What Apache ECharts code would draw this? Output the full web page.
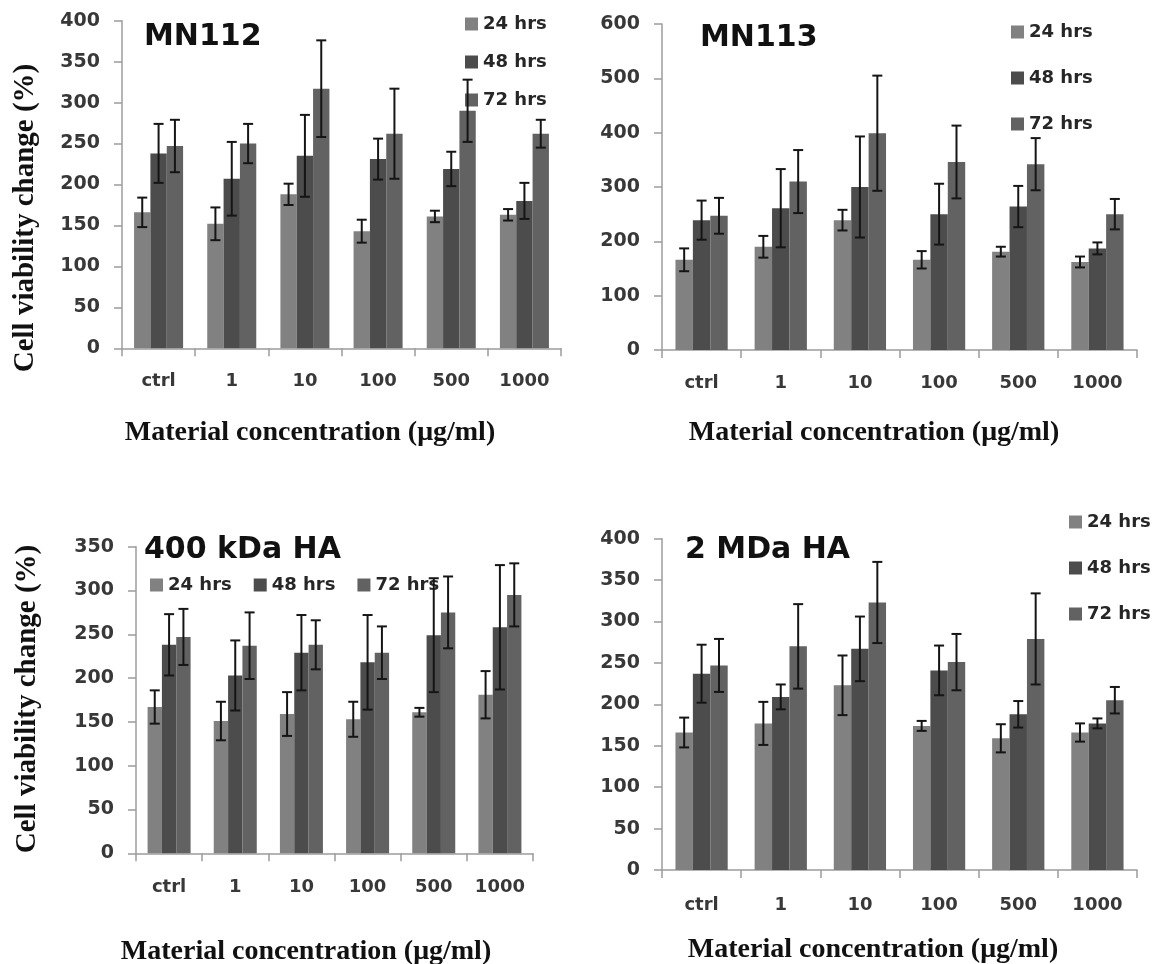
<!DOCTYPE html>
<html>
<head>
<meta charset="utf-8">
<script src="https://cdn.jsdelivr.net/npm/echarts@6/dist/echarts.min.js"></script>
<style>
html,body{margin:0;padding:0;background:#fff;}
#chart{width:1166px;height:964px;}
</style>
</head>
<body>
<div id="chart"></div>
<script>
const categories = ['ctrl', '1', '10', '100', '500', '1000'];
const seriesNames = ['24 hrs', '48 hrs', '72 hrs'];
const panelTitles = ['MN112', 'MN113', '400 kDa HA', '2 MDa HA'];
const yMax = [400, 600, 350, 400];
const yStep = [50, 100, 50, 50];

// MN112
const mn112_24 = [166, 152, 188, 143, 161, 163];
const mn112_24_err = [18, 20, 13, 14, 7, 7];
const mn112_48 = [238, 207, 235, 231, 219, 180];
const mn112_48_err = [36, 45, 50, 25, 21, 22];
const mn112_72 = [247, 250, 317, 262, 290, 262];
const mn112_72_err = [32, 24, 59, 55, 38, 17];

// MN113
const mn113_24 = [166, 190, 239, 166, 181, 162];
const mn113_24_err = [21, 20, 19, 16, 9, 10];
const mn113_48 = [239, 261, 300, 250, 264, 187];
const mn113_48_err = [36, 72, 93, 56, 38, 11];
const mn113_72 = [247, 310, 399, 346, 342, 250];
const mn113_72_err = [33, 58, 106, 67, 48, 28];

// 400 kDa HA
const ha400_24 = [167, 151, 159, 153, 161, 181];
const ha400_24_err = [19, 22, 25, 20, 5, 27];
const ha400_48 = [238, 203, 229, 218, 249, 258];
const ha400_48_err = [35, 40, 43, 54, 65, 71];
const ha400_72 = [247, 237, 238, 229, 275, 295];
const ha400_72_err = [32, 38, 28, 30, 41, 36];

// 2 MDa HA
const ha2m_24 = [166, 177, 223, 174, 159, 166];
const ha2m_24_err = [18, 26, 36, 6, 17, 11];
const ha2m_48 = [237, 209, 267, 241, 188, 177];
const ha2m_48_err = [35, 15, 39, 30, 16, 6];
const ha2m_72 = [247, 270, 323, 251, 279, 205];
const ha2m_72_err = [32, 51, 49, 34, 55, 16];

const panels = [
  { vals: [mn112_24, mn112_48, mn112_72], errs: [mn112_24_err, mn112_48_err, mn112_72_err] },
  { vals: [mn113_24, mn113_48, mn113_72], errs: [mn113_24_err, mn113_48_err, mn113_72_err] },
  { vals: [ha400_24, ha400_48, ha400_72], errs: [ha400_24_err, ha400_48_err, ha400_72_err] },
  { vals: [ha2m_24, ha2m_48, ha2m_72], errs: [ha2m_24_err, ha2m_48_err, ha2m_72_err] }
];

// layout (styles / positions)
const grids = [
  { left: 122, top: 20.7, width: 439, height: 327.6 },
  { left: 662, top: 24, width: 475, height: 326 },
  { left: 136, top: 546.7, width: 397, height: 306.6 },
  { left: 662, top: 538.7, width: 475, height: 331.3 }
];
const gaps = [0.33, 0.34, 0.35, 0.34];
const labelMargins = [24, 24, 25, 26];
const colors = ['#818181', '#4c4c4c', '#626262'];
const tickFont = 'DejaVu Sans';
const serif = '"Liberation Serif", "Times New Roman", serif';

const chart = echarts.init(document.getElementById('chart'), null, { renderer: 'canvas' });

const xAxis = [], yAxis = [], series = [];
grids.forEach((g, i) => {
  xAxis.push({
    type: 'category', gridIndex: i, data: categories,
    axisLine: { show: true, lineStyle: { color: '#9c9c9c', width: 1.5 } },
    axisTick: { show: true, length: 8, alignWithLabel: false, lineStyle: { color: '#9c9c9c', width: 1.5 } },
    axisLabel: { margin: labelMargins[i], fontFamily: tickFont, fontWeight: 'bold', fontSize: 18, color: '#383838' },
    splitLine: { show: false }
  });
  yAxis.push({
    type: 'value', gridIndex: i, min: 0, max: yMax[i], interval: yStep[i],
    axisLine: { show: true, lineStyle: { color: '#9c9c9c', width: 1.5 } },
    axisTick: { show: true, length: 8, lineStyle: { color: '#9c9c9c', width: 1.5 } },
    axisLabel: { margin: 22, fontFamily: tickFont, fontWeight: 'bold', fontSize: 19, color: '#383838' },
    splitLine: { show: false }
  });
  for (let k = 0; k < 3; k++) {
    series.push({
      type: 'bar', name: seriesNames[k], xAxisIndex: i, yAxisIndex: i,
      data: panels[i].vals[k], barGap: '0%', barCategoryGap: (gaps[i] * 100) + '%',
      itemStyle: { color: colors[k] }, z: 2
    });
  }
  for (let k = 0; k < 3; k++) {
    const data = panels[i].vals[k].map((v, c) => [c, v, panels[i].errs[k][c]]);
    const gap = gaps[i];
    series.push({
      type: 'custom', xAxisIndex: i, yAxisIndex: i, z: 5, silent: true,
      data: data,
      renderItem: function (params, api) {
        const c = api.value(0), v = api.value(1), e = api.value(2);
        const hi = api.coord([c, v + e]);
        const lo = api.coord([c, v - e]);
        const catW = api.size([1, 0])[0];
        const bw = catW * (1 - gap) / 3;
        const x = hi[0] + (k - 1) * bw;
        const cap = 5;
        const st = { stroke: '#151515', lineWidth: 2 };
        return {
          type: 'group',
          children: [
            { type: 'line', shape: { x1: x, y1: hi[1], x2: x, y2: lo[1] }, style: st },
            { type: 'line', shape: { x1: x - cap, y1: hi[1], x2: x + cap, y2: hi[1] }, style: st },
            { type: 'line', shape: { x1: x - cap, y1: lo[1], x2: x + cap, y2: lo[1] }, style: st }
          ]
        };
      }
    });
  }
});

const legendText = { fontFamily: tickFont, fontWeight: 'bold', fontSize: 18, color: '#262626', lineHeight: 20 };
const legends = [
  { orient: 'vertical', left: 465, top: 14, itemGap: 18 },
  { orient: 'vertical', left: 1011, top: 22, itemGap: 26 },
  { orient: 'horizontal', left: 150, top: 575, itemGap: 22 },
  { orient: 'vertical', left: 1069, top: 512, itemGap: 26 }
].map(l => Object.assign({
  data: seriesNames, icon: 'rect', itemWidth: 13, itemHeight: 13, padding: 0,
  textStyle: legendText, selectedMode: false
}, l));

const titlePos = [[144, 22], [700, 23], [144, 535], [685, 535]];
const titles = panelTitles.map((t, i) => ({
  text: t, left: titlePos[i][0], top: titlePos[i][1], padding: 0,
  textStyle: { fontFamily: tickFont, fontWeight: 'bold', fontSize: 30, lineHeight: 30, color: '#111' }
}));

const xNamePos = [[310, 433], [874, 433], [306, 952], [873, 950]];
const yNamePos = [[26, 218], [28, 699]];
const graphic = [];
xNamePos.forEach(p => graphic.push({
  type: 'text', x: p[0], y: p[1], silent: true,
  style: { text: 'Material concentration (μg/ml)', font: 'bold 28px ' + serif, fill: '#111', align: 'center', verticalAlign: 'middle' }
}));
yNamePos.forEach(p => graphic.push({
  type: 'text', x: p[0], y: p[1], rotation: Math.PI / 2, silent: true,
  style: { text: 'Cell viability change (%)', font: 'bold 29px ' + serif, fill: '#111', align: 'center', verticalAlign: 'middle' }
}));

chart.setOption({
  animation: false,
  backgroundColor: '#ffffff',
  title: titles,
  legend: legends,
  grid: grids.map(g => Object.assign({ containLabel: false }, g)),
  xAxis: xAxis,
  yAxis: yAxis,
  series: series,
  graphic: graphic
});
</script>
</body>
</html>
